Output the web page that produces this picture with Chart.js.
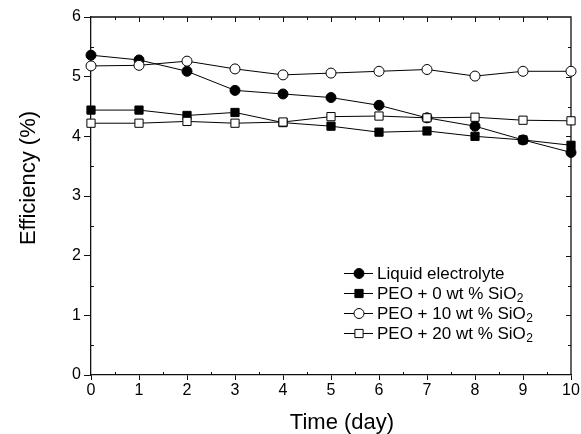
<!DOCTYPE html>
<html lang="en">

<head>
    <meta charset="UTF-8">
    <script src="https://cdn.jsdelivr.net/npm/chart.js"></script>
    <title>Efficiency</title>
    <style>
        body { margin: 0; background: #fff; }
        .grafico_sty { width: 581px; height: 434px; }
    </style>
</head>

<body>

    <div class="grafico_sty">
        <canvas id="grafico_1"></canvas>
    </div>

    <script>

        // data
        const days = [0, 1, 2, 3, 4, 5, 6, 7, 8, 9, 10];
        const liquido = [5.36, 5.28, 5.09, 4.77, 4.71, 4.65, 4.52, 4.31, 4.17, 3.94, 3.73];
        const peo0 = [4.44, 4.44, 4.35, 4.40, 4.23, 4.17, 4.07, 4.09, 4.00, 3.94, 3.85];
        const peo10 = [5.18, 5.19, 5.26, 5.13, 5.03, 5.06, 5.09, 5.12, 5.01, 5.09, 5.09];
        const peo20 = [4.22, 4.22, 4.25, 4.22, 4.24, 4.33, 4.34, 4.31, 4.32, 4.27, 4.26];
        const nomes = ['Liquid electrolyte', 'PEO + 0 wt % SiO₂', 'PEO + 10 wt % SiO₂', 'PEO + 20 wt % SiO₂'];
        const xTitulo = 'Time (day)';
        const yTitulo = 'Efficiency (%)';

        const fonte = "'Liberation Sans', Arial, sans-serif";

        function serie(valores, nome, estilo, cheio, raio, ordem) {
            return {
                label: nome,
                data: days.map((d, i) => ({ x: d, y: valores[i] })),
                borderColor: '#000',
                borderWidth: 1,
                pointStyle: estilo,
                pointRadius: raio,
                pointBackgroundColor: cheio ? '#000' : '#fff',
                pointBorderColor: '#000',
                pointBorderWidth: 1,
                pointHoverRadius: raio,
                clip: false,
                order: ordem
            };
        }

        // label text with the ₂ drawn as a real lowered subscript
        function textoSub(c, texto, x, y) {
            const partes = texto.split('₂');
            c.font = '17px ' + fonte;
            c.fillText(partes[0], x, y);
            if (partes.length > 1) {
                const w = c.measureText(partes[0]).width;
                c.font = '12px ' + fonte;
                c.fillText('2', x + w + 0.5, y + 5);
            }
        }

        // frame, inside ticks, axis titles and legend
        const extras = {
            id: 'extras',
            beforeDatasetsDraw(chart) {
                const c = chart.ctx;
                const a = chart.chartArea;
                const xs = chart.scales.x;
                const ys = chart.scales.y;
                c.save();
                c.strokeStyle = '#111';
                c.lineWidth = 1.3;
                c.beginPath();
                c.moveTo(a.left, a.top); c.lineTo(a.right, a.top); c.lineTo(a.right, a.bottom);
                c.stroke();
                c.lineWidth = 1;
                c.beginPath();
                for (let v = 0.5; v < 10; v += 0.5) {
                    const px = Math.round(xs.getPixelForValue(v)) + 0.5;
                    const maior = Number.isInteger(v);
                    c.moveTo(px, a.top); c.lineTo(px, a.top + (maior ? 5 : 3));
                    if (!maior) { c.moveTo(px, a.bottom); c.lineTo(px, a.bottom - 3); }
                }
                for (let v = 0.5; v < 6; v += 0.5) {
                    const py = Math.round(ys.getPixelForValue(v)) + 0.5;
                    const maior = Number.isInteger(v);
                    c.moveTo(a.right, py); c.lineTo(a.right - (maior ? 5 : 3), py);
                    if (!maior) { c.moveTo(a.left, py); c.lineTo(a.left + 3, py); }
                }
                c.stroke();
                c.restore();
            },
            afterDraw(chart) {
                const c = chart.ctx;
                const a = chart.chartArea;
                c.save();
                c.fillStyle = '#000';
                c.font = '22px ' + fonte;
                c.textAlign = 'center';
                c.textBaseline = 'alphabetic';
                c.fillText(xTitulo, a.left + 251, 429);
                c.translate(35, 178);
                c.rotate(-Math.PI / 2);
                c.fillText(yTitulo, 0, 0);
                c.restore();

                // legend
                c.save();
                c.textBaseline = 'middle';
                c.textAlign = 'left';
                chart.data.datasets.forEach((ds, i) => {
                    const y = 273 + i * 20;
                    const x0 = a.left + 253;
                    c.strokeStyle = '#000';
                    c.lineWidth = 1;
                    c.beginPath();
                    c.moveTo(x0, y + 0.5); c.lineTo(x0 + 29, y + 0.5);
                    c.stroke();
                    c.fillStyle = ds.pointBackgroundColor;
                    c.strokeStyle = '#000';
                    Chart.helpers.drawPoint(c, { pointStyle: ds.pointStyle, radius: ds.pointRadius, rotation: 0, borderWidth: 1 }, x0 + 15, y + 0.5);
                    c.fillStyle = '#000';
                    textoSub(c, ds.label, x0 + 33, y + 1);
                });
                c.restore();
            }
        };

        const ctx = document.getElementById('grafico_1');

        const grafico_1 = new Chart(ctx, {
            type: 'line',
            data: {
                datasets: [
                    serie(liquido, nomes[0], 'circle', true, 5, 4),
                    serie(peo0, nomes[1], 'rect', true, 5.8, 3),
                    serie(peo10, nomes[2], 'circle', false, 5, 2),
                    serie(peo20, nomes[3], 'rect', false, 5.8, 1)
                ]
            },
            options: {
                responsive: true,
                maintainAspectRatio: false,
                animation: false,
                events: [],
                layout: { padding: { left: 0, right: 10, top: 17, bottom: 0 } },
                plugins: {
                    legend: { display: false },
                    tooltip: { enabled: false }
                },
                scales: {
                    x: {
                        type: 'linear',
                        min: 0,
                        max: 10,
                        afterFit: s => { s.height = 59; },
                        ticks: { stepSize: 1, color: '#000', padding: 1, maxRotation: 0, font: { family: fonte, size: 16 } },
                        grid: { drawOnChartArea: false, tickLength: 5, color: '#111', lineWidth: 1 },
                        border: { color: '#111', width: 1.3 }
                    },
                    y: {
                        min: 0,
                        max: 6,
                        afterFit: s => { s.width = 91; },
                        ticks: { stepSize: 1, color: '#000', padding: 3, font: { family: fonte, size: 16 } },
                        grid: { drawOnChartArea: false, tickLength: 7, color: '#111', lineWidth: 1 },
                        border: { color: '#111', width: 1.3 }
                    }
                }
            },
            plugins: [extras]
        });

    </script>

</body>

</html>
